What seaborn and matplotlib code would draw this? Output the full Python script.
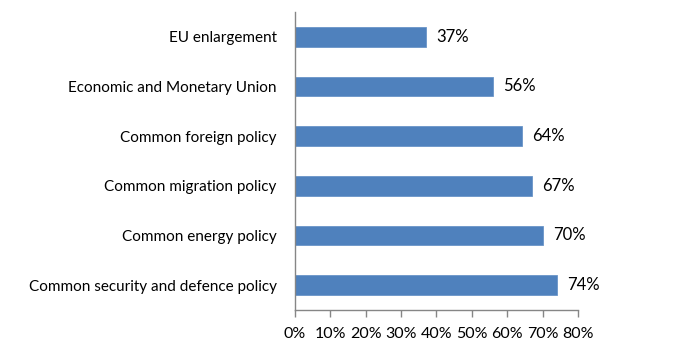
import matplotlib
matplotlib.use("Agg")
import matplotlib.pyplot as plt
import seaborn as sns
import pandas as pd
import numpy as np
from matplotlib.ticker import FixedLocator, PercentFormatter

categories = ["EU enlargement", "Economic and Monetary Union", "Common foreign policy",
              "Common migration policy", "Common energy policy",
              "Common security and defence policy"]
values = [37, 56, 64, 67, 70, 74]
xticks = [0, 10, 20, 30, 40, 50, 60, 70, 80]

sns.set_theme(style="white")
plt.rcParams['font.family'] = ['Lato', 'DejaVu Sans']

df = pd.DataFrame({"cat": categories, "val": values})

fig = plt.figure(figsize=(7, 3.53), dpi=100)
ax = fig.add_axes([0.421, 0.122, 0.405, 0.844])
sns.barplot(data=df, x="val", y="cat", orient="h", color="#4F81BD", saturation=1,
            width=0.4, edgecolor="#6A95C8", linewidth=0.6, ax=ax)

ax.set_xlim(0, 80)
ax.set_ylim(len(categories) - 0.5, -0.5)
ax.set_xticks(xticks)
ax.xaxis.set_major_formatter(PercentFormatter(decimals=0))
ax.set_xlabel("")
ax.set_ylabel("")

for s in ["top", "right"]:
    ax.spines[s].set_visible(False)
for s in ["left", "bottom"]:
    ax.spines[s].set_color("#868686")
    ax.spines[s].set_linewidth(1.0)

ax.tick_params(axis="y", which="major", length=0, pad=13, labelsize=11, labelcolor="#000000")
ax.yaxis.set_minor_locator(FixedLocator(np.arange(-0.5, len(categories), 1.0)))
ax.tick_params(axis="y", which="minor", length=5, color="#868686", width=1, direction="out")
ax.tick_params(axis="x", which="major", length=5, color="#868686", width=1, direction="out",
               labelsize=11.5, pad=7, bottom=True, labelcolor="#000000")

for i, v in enumerate(values):
    ax.text(v + 2.9, i, f"{v}%", va="center", ha="left", fontsize=12, color="#000000")

fig.savefig("out.png", dpi=100)
